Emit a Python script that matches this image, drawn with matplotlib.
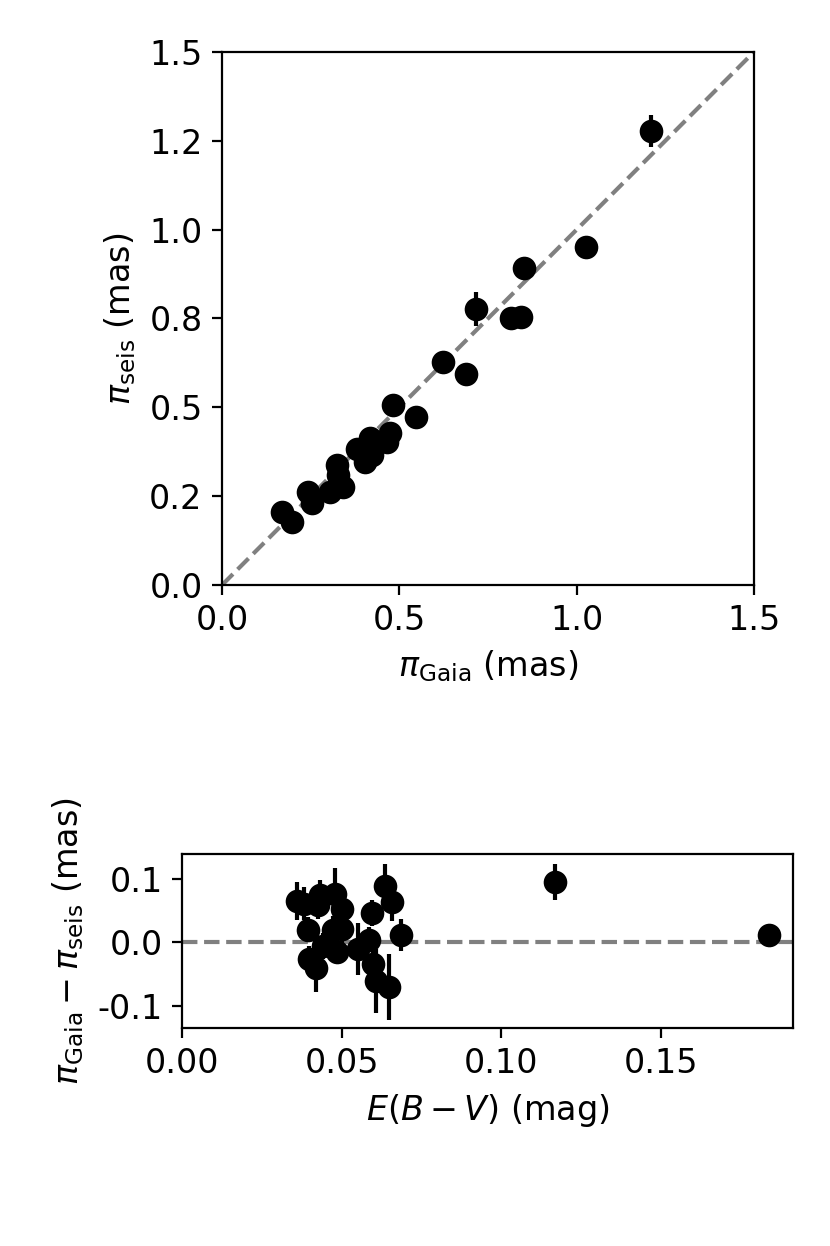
import matplotlib
matplotlib.use("Agg")
import matplotlib.pyplot as plt
from matplotlib.ticker import MultipleLocator, FormatStrFormatter
import numpy as np

plt.rcParams["font.size"] = 12

# top panel: Gaia vs seismic parallax (mas)
plx_gaia = [0.622, 0.688, 0.481, 0.546, 0.474, 0.464, 0.417, 0.381, 0.403, 0.422,
            0.323, 0.328, 0.304, 0.340, 0.243, 0.253, 0.168, 0.196,
            1.209, 1.026, 0.851, 0.715, 0.815, 0.842]
plx_seis = [0.628, 0.593, 0.507, 0.474, 0.427, 0.403, 0.413, 0.382, 0.347, 0.366,
            0.338, 0.310, 0.263, 0.275, 0.263, 0.230, 0.205, 0.176,
            1.278, 0.952, 0.893, 0.777, 0.751, 0.755]
plx_seis_err = [0.010, 0.010, 0.010, 0.010, 0.010, 0.010, 0.010, 0.010, 0.010, 0.010,
                0.010, 0.010, 0.010, 0.030, 0.010, 0.010, 0.010, 0.010,
                0.045, 0.012, 0.014, 0.047, 0.012, 0.012]

# bottom panel: parallax difference vs reddening
ebv = [0.0359, 0.0382, 0.0396, 0.0432, 0.0427, 0.0479, 0.0500, 0.0472, 0.0500, 0.0443,
       0.0399, 0.0420, 0.0485, 0.0552, 0.0586, 0.0594, 0.0599, 0.0607, 0.0636, 0.0657,
       0.0649, 0.0685, 0.1169, 0.1839]
dplx = [0.0646, 0.061, 0.020, 0.074, 0.058, 0.0767, 0.053, 0.020, 0.0216, -0.006,
        -0.026, -0.041, -0.015, -0.010, 0.004, 0.046, -0.0336, -0.061, 0.088, 0.0635,
        -0.070, 0.011, 0.095, 0.011]
dplx_err = [0.030, 0.026, 0.020, 0.024, 0.022, 0.040, 0.022, 0.022, 0.022, 0.020,
            0.020, 0.037, 0.018, 0.041, 0.020, 0.020, 0.022, 0.050, 0.036, 0.030,
            0.052, 0.025, 0.028, 0.012]

fig = plt.figure(figsize=(4.15, 6.23), dpi=200)

ax1 = fig.add_axes([0.2675, 0.5305, 0.6409, 0.4278])
ax1.plot([0, 1.5], [0, 1.5], ls="--", color="grey", lw=1.5, zorder=1)
ax1.errorbar(plx_gaia, plx_seis, yerr=plx_seis_err, fmt="o", color="k",
             ms=7.5, elinewidth=1.5, capsize=0, zorder=2)
ax1.set_xlim(0, 1.5)
ax1.set_ylim(0, 1.5)
ax1.xaxis.set_major_locator(MultipleLocator(0.5))
ax1.yaxis.set_major_locator(MultipleLocator(0.25))
ax1.yaxis.set_major_formatter(FormatStrFormatter("%.1f"))
ax1.set_xlabel(r"$\pi_{\rm Gaia}$ (mas)")
ax1.set_ylabel(r"$\pi_{\rm seis}$ (mas)")

ax2 = fig.add_axes([0.2193, 0.1750, 0.7361, 0.1396])
ax2.axhline(0, ls="--", color="grey", lw=1.5, zorder=1)
ax2.errorbar(ebv, dplx, yerr=dplx_err, fmt="o", color="k",
             ms=7.5, elinewidth=1.5, capsize=0, zorder=2)
ax2.set_xlim(0, 0.1914)
ax2.set_ylim(-0.135, 0.139)
ax2.xaxis.set_major_locator(MultipleLocator(0.05))
ax2.xaxis.set_major_formatter(FormatStrFormatter("%.2f"))
ax2.yaxis.set_major_locator(MultipleLocator(0.1))
ax2.yaxis.set_major_formatter(FormatStrFormatter("%.1f"))
ax2.set_xlabel(r"$E(B-V)$ (mag)")
ax2.set_ylabel(r"$\pi_{\rm Gaia} - \pi_{\rm seis}$ (mas)")

fig.savefig("out.png", dpi=200)
